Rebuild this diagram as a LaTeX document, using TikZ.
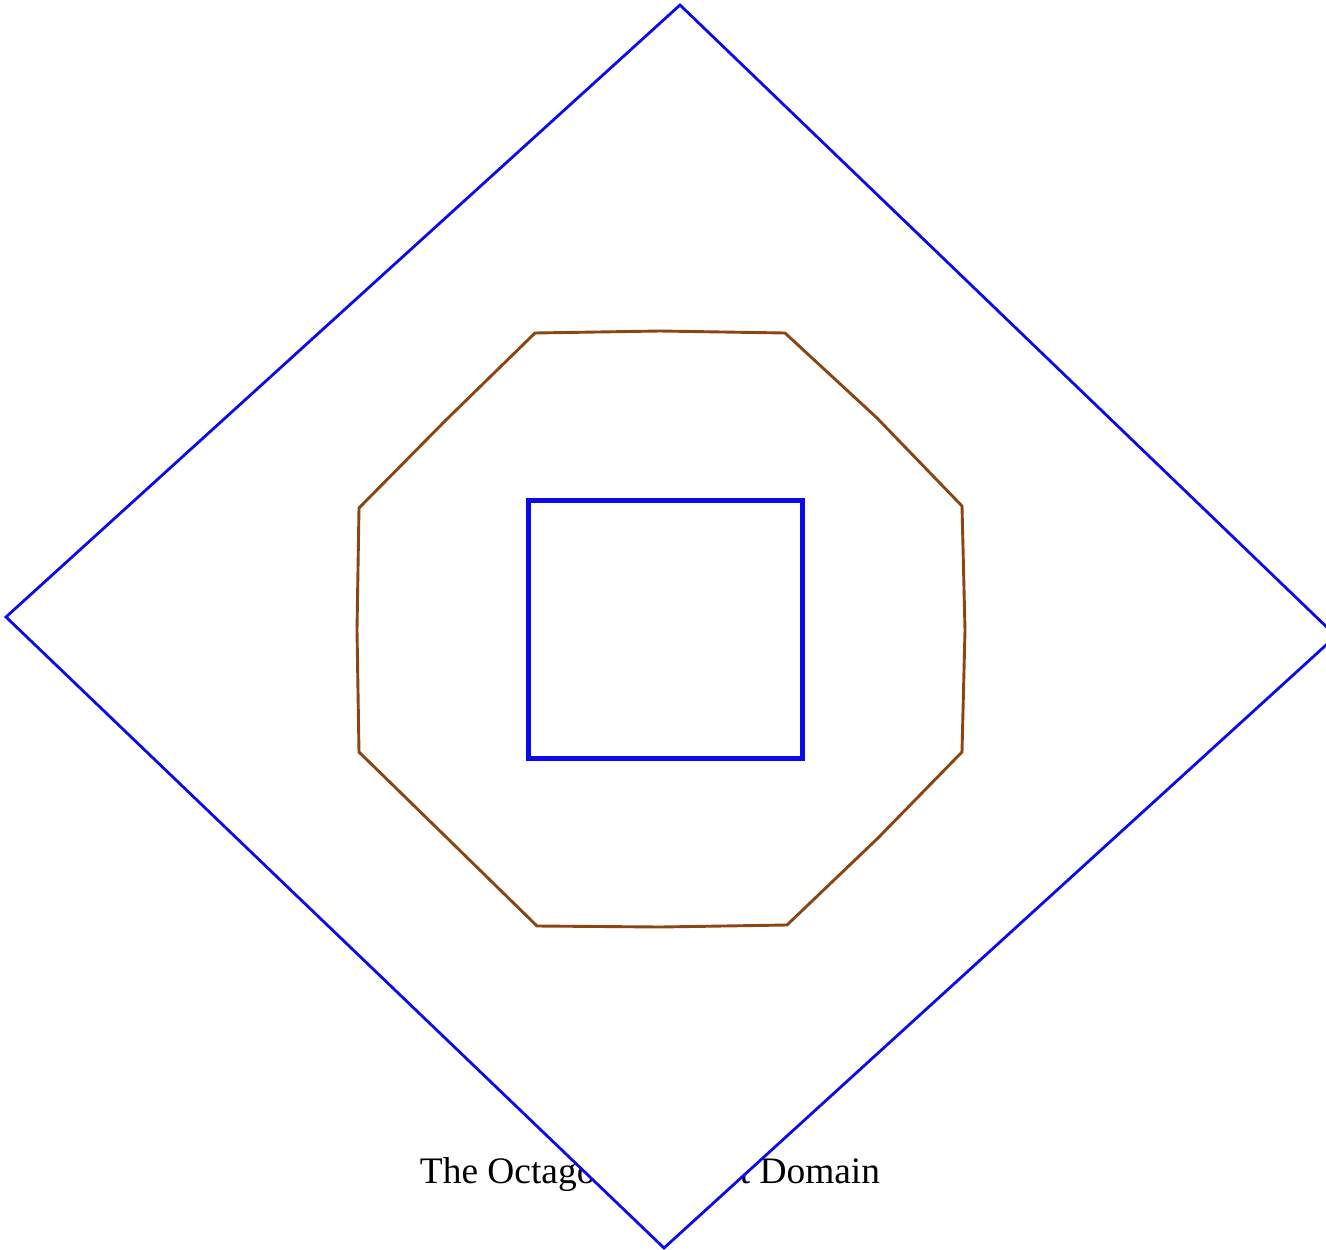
\documentclass[tikz,border=0pt]{standalone}
\usepackage{fontspec}
\setmainfont{Liberation Serif}
\definecolor{dblue}{RGB}{10,10,235}
\definecolor{obrown}{RGB}{139,69,19}
\begin{document}
\begin{tikzpicture}[x=1pt,y=-1pt,
  outer/.style={draw=dblue,line width=2.8pt,fill=white,line join=miter},
  octa/.style={draw=obrown,line width=2.9pt,line join=miter},
  inner/.style={draw=dblue,line width=5pt,line join=miter},
  title/.style={font=\fontsize{37.4}{40}\selectfont,anchor=base,inner sep=0pt}]
\useasboundingbox (0,0) rectangle (1326,1250);
\node[title] (cap) at (650,1183) {The Octagon Abstract Domain};
\draw[outer] (680,5) -- (1336,636) -- (664,1248) -- (6,617) -- cycle;
\draw[octa] (535,333) -- (660,331) -- (785,333) -- (877,418) -- (962,506) -- (965,630) -- (962,752) -- (878,838) -- (787,925) -- (660,927) -- (537,926) -- (443,834) -- (359,752) -- (357,630) -- (359,508) -- (445,421) -- cycle;
\draw[inner] (528,500) rectangle (802,758);
\end{tikzpicture}
\end{document}
